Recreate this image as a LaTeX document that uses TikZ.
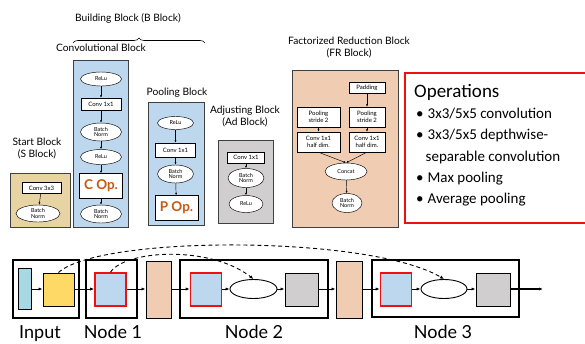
\documentclass[tikz,border=0pt]{standalone}
\usepackage{fontspec}
\setmainfont{Lato}
\newfontfamily\opsfont{Carlito}
\usetikzlibrary{shapes.geometric,arrows.meta,decorations.pathreplacing}
\definecolor{cblue}{HTML}{BDD7EE}
\definecolor{ctan}{HTML}{E8D3A2}
\definecolor{cgrey}{HTML}{D0CECE}
\definecolor{cpeach}{HTML}{F0CCB2}
\definecolor{cyellow}{HTML}{FFD966}
\definecolor{clblue}{HTML}{A8D8E4}
\definecolor{corange}{HTML}{C55A11}
\definecolor{cred}{HTML}{F01010}
\begin{document}
\begin{tikzpicture}[x=1pt,y=-1pt,
  blockbox/.style={draw=black!75,line width=0.6pt,inner sep=0pt,rectangle},
  lbl/.style={font=\fontsize{10.2}{12.8}\selectfont,align=center,inner sep=0pt},
  ell/.style={ellipse,draw,fill=white,line width=0.45pt,inner sep=0pt,align=center,font=\fontsize{5.5}{5.8}\selectfont},
  rbox/.style={rectangle,draw,fill=white,line width=0.45pt,inner sep=0pt,align=center,font=\fontsize{6}{6.8}\selectfont},
  opbox/.style={rectangle,draw,fill=white,line width=0.45pt,inner sep=0pt,font=\bfseries\fontsize{13.5}{13.5}\selectfont,text=corange},
  sarr/.style={-{Latex[length=2.4pt,width=2pt]},line width=0.45pt},
  nodebox/.style={draw,line width=1.3pt,rectangle,inner sep=0pt},
  sq/.style={draw,line width=1pt,rectangle,inner sep=0pt,minimum width=31pt,minimum height=33pt},
  redsq/.style={sq,draw=cred,line width=1.6pt,fill=cblue},
  barr/.style={-{Latex[length=4pt,width=3.2pt]},line width=0.9pt},
  darr/.style={-{Latex[length=4pt,width=3.2pt]},line width=0.9pt,dash pattern=on 4pt off 3pt},
  big/.style={font=\fontsize{18}{18}\selectfont,inner sep=0pt,anchor=base}]
\useasboundingbox (0,0) rectangle (585,343);
\clip (0,0) rectangle (585,343);
\fill[white] (0,0) rectangle (585,343);

% ---------- titles ----------
\node[lbl] (tB) at (128,18) {Building Block (B Block)};
\draw[line width=0.6pt,decorate,decoration={brace,amplitude=5pt}] (73,43) -- (205,43) coordinate[pos=0.5] (brm);
\node[lbl] (tC) at (101,48) {Convolutional Block};
\node[lbl] (tS) at (37,148.5) {Start Block\\(S Block)};
\node[lbl] (tP) at (177,93) {Pooling Block};
\node[lbl] (tA) at (245,116.5) {Adjusting Block\\(Ad Block)};
\node[lbl] (tF) at (349,47.5) {Factorized Reduction Block\\(FR Block)};

% ---------- Start block ----------
\node[blockbox,fill=ctan,minimum width=60pt,minimum height=54pt] (SB) at (40,200) {};
\node[rbox,minimum width=39pt,minimum height=11pt] (s1) at (41.5,188) {Conv 3x3};
\node[ell,minimum width=44pt,minimum height=17pt] (s2) at (38,213.5) {Batch\\Norm};
\draw[sarr] (s1) -- (s2);

% ---------- Convolutional block ----------
\node[blockbox,fill=cblue,minimum width=55pt,minimum height=167pt] (CB) at (100.5,143.5) {};
\node[ell,minimum width=41pt,minimum height=14pt] (c1) at (101,79) {ReLu};
\node[rbox,minimum width=40pt,minimum height=12pt] (c2) at (101,104) {Conv 1x1};
\node[ell,minimum width=41pt,minimum height=18pt] (c3) at (101,132) {Batch\\Norm};
\node[ell,minimum width=41pt,minimum height=15pt] (c4) at (101,157) {ReLu};
\node[opbox,minimum width=43pt,minimum height=25pt] (c5) at (101,186) {C Op.};
\node[ell,minimum width=41pt,minimum height=18pt] (c6) at (101,214) {Batch\\Norm};
\draw[sarr] (c1) -- (c2);
\draw[sarr] (c2) -- (c3);
\draw[sarr] (c3) -- (c4);
\draw[sarr] (c4) -- (c5);
\draw[sarr] (c5) -- (c6);

% ---------- Pooling block ----------
\node[blockbox,fill=cblue,minimum width=56pt,minimum height=123pt] (PB) at (176,163.5) {};
\node[ell,minimum width=36pt,minimum height=13pt] (p1) at (175.5,123) {ReLu};
\node[rbox,minimum width=40pt,minimum height=14pt] (p2) at (175.5,150) {Conv 1x1};
\node[ell,minimum width=36pt,minimum height=18pt] (p3) at (175.5,174) {Batch\\Norm};
\node[opbox,minimum width=43pt,minimum height=25pt] (p4) at (176.5,208) {P Op.};
\draw[sarr] (p1) -- (p2);
\draw[sarr] (p2) -- (p3);
\draw[sarr] (p3) -- (p4);

% ---------- Adjusting block ----------
\node[blockbox,fill=cgrey,minimum width=55pt,minimum height=83pt] (AB) at (245.5,181.5) {};
\node[rbox,minimum width=37pt,minimum height=11pt] (a1) at (246,157.5) {Conv 1x1};
\node[ell,minimum width=36pt,minimum height=19pt] (a2) at (246,178) {Batch\\Norm};
\node[ell,minimum width=34pt,minimum height=17pt] (a3) at (246,204) {ReLu};
\draw[sarr] (a1) -- (a2);
\draw[sarr] (a2) -- (a3);

% ---------- FR block ----------
\node[blockbox,fill=cpeach,minimum width=106pt,minimum height=157pt] (FB) at (345,148.5) {};
\node[rbox,minimum width=36pt,minimum height=11pt] (f0) at (367,88) {Padding};
\node[rbox,minimum width=43pt,minimum height=20pt] (f1) at (318.5,117) {Pooling\\stride 2};
\node[rbox,minimum width=36pt,minimum height=20pt] (f2) at (367,117) {Pooling\\stride 2};
\node[rbox,minimum width=43pt,minimum height=20pt] (f3) at (318.5,142) {Conv 1x1\\half dim.};
\node[rbox,minimum width=36pt,minimum height=20pt] (f4) at (367,142) {Conv 1x1\\half dim.};
\node[ell,minimum width=42pt,minimum height=17pt] (f5) at (346,171.5) {Concat};
\node[ell,minimum width=30pt,minimum height=19pt] (f6) at (347,203) {Batch\\Norm};
\draw[sarr] (f0) -- (f2);
\draw[sarr] (f1) -- (f3);
\draw[sarr] (f2) -- (f4);
\draw[sarr] (f3.south) -- (f5.north);
\draw[sarr] (f4.south) -- (f5.north);
\draw[sarr] (f5) -- (f6);

% ---------- Operations ----------
\node[draw=cred,line width=1.4pt,rectangle,inner sep=0pt,minimum width=190pt,minimum height=150pt] (OB) at (500,148) {};
\node[anchor=west,inner sep=0pt,font=\opsfont\fontsize{19}{19}\selectfont] (o0) at (414,92) {Operations};
\node[anchor=west,inner sep=0pt,font=\opsfont\fontsize{15}{15}\selectfont] (o1) at (416,113.5) {•\hspace{4pt}3x3/5x5 convolution};
\node[anchor=west,inner sep=0pt,font=\opsfont\fontsize{15}{15}\selectfont] (o2) at (416,135) {•\hspace{4pt}3x3/5x5 depthwise-};
\node[anchor=west,inner sep=0pt,font=\opsfont\fontsize{15}{15}\selectfont] (o3) at (425.5,157) {separable convolution};
\node[anchor=west,inner sep=0pt,font=\opsfont\fontsize{15}{15}\selectfont] (o4) at (416,178.5) {•\hspace{4pt}Max pooling};
\node[anchor=west,inner sep=0pt,font=\opsfont\fontsize{15}{15}\selectfont] (o5) at (416,200) {•\hspace{4pt}Average pooling};

% ---------- bottom chain ----------
\node[nodebox,minimum width=66pt,minimum height=58pt] (ibox) at (46,289) {};
\node[nodebox,minimum width=51pt,minimum height=58pt] (n1box) at (111.5,289) {};
\node[nodebox,minimum width=148pt,minimum height=58pt] (n2box) at (254,289) {};
\node[nodebox,minimum width=147pt,minimum height=57pt] (n3box) at (445.5,288.5) {};

\node[draw,line width=1.8pt,fill=clblue,inner sep=0pt,minimum width=13pt,minimum height=41pt] (lb) at (25,289) {};
\node[sq,fill=cyellow] (yl) at (58.5,289.5) {};
\node[redsq] (b1) at (110.5,289.5) {};
\node[draw,line width=1pt,fill=cpeach,inner sep=0pt,minimum width=25pt,minimum height=57pt] (pe1) at (158.5,289.5) {};
\node[redsq] (b2) at (206,289.5) {};
\node[ellipse,draw,line width=0.9pt,fill=white,inner sep=0pt,minimum width=47pt,minimum height=19pt] (e2) at (253.5,289) {};
\node[sq,fill=cgrey,minimum width=33pt] (g2) at (301.5,289.5) {};
\node[draw,line width=1pt,fill=cpeach,inner sep=0pt,minimum width=26pt,minimum height=57pt] (pe2) at (349,289.5) {};
\node[redsq] (b3) at (396,289.5) {};
\node[ellipse,draw,line width=0.9pt,fill=white,inner sep=0pt,minimum width=46pt,minimum height=19pt] (e3) at (444,289) {};
\node[sq,fill=cgrey,minimum width=34pt] (g3) at (493,289.5) {};
\coordinate (out) at (543,289);

\draw[barr] (lb.east|-0,289) -- (yl.west|-0,289);
\draw[barr] (yl.east|-0,289) -- (b1.west|-0,289);
\draw[barr] (b1.east|-0,289) -- (pe1.west|-0,289);
\draw[barr] (pe1.east|-0,289) -- (b2.west|-0,289);
\draw[barr] (b2.east|-0,289) -- (e2.west|-0,289);
\draw[barr] (e2.east|-0,289) -- (g2.west|-0,289);
\draw[barr] (g2.east|-0,289) -- (pe2.west|-0,289);
\draw[barr] (pe2.east|-0,289) -- (b3.west|-0,289);
\draw[barr] (b3.east|-0,289) -- (e3.west|-0,289);
\draw[barr] (e3.east|-0,289) -- (g3.west|-0,289);
\draw[barr,line width=1.5pt] (g3.east|-0,289) -- (out);

\draw[darr] (yl.north) .. controls (100,235) and (370,235) .. (e3.north);
\draw[darr] (b1.north) .. controls (125,250) and (210,245) .. (e2.north);

\node[big] (tIn) at (40,338) {Input};
\node[big] (tN1) at (113,338) {Node 1};
\node[big] (tN2) at (254,338) {Node 2};
\node[big] (tN3) at (443,338) {Node 3};
\end{tikzpicture}
\end{document}
